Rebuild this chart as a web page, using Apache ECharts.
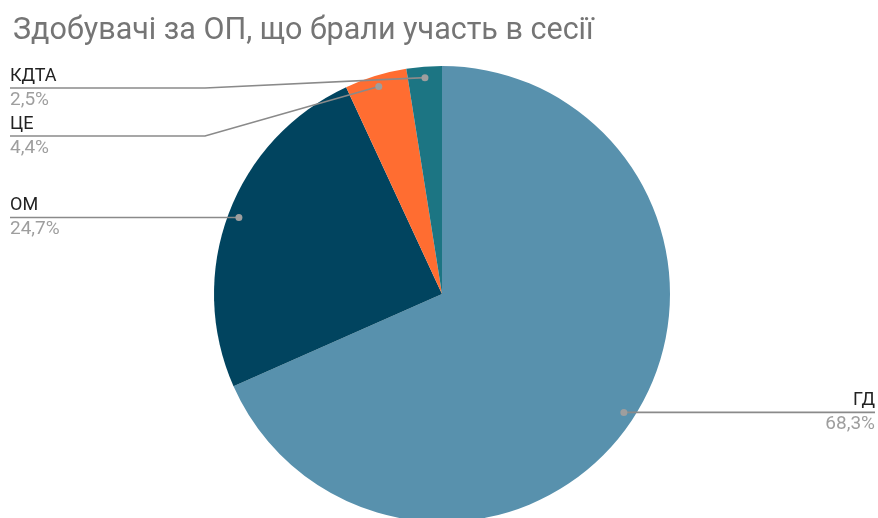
<!DOCTYPE html>
<html>
<head>
<meta charset="utf-8">
<script src="https://cdn.jsdelivr.net/npm/echarts@6/dist/echarts.min.js"></script>
<style>
html,body{margin:0;padding:0;background:#fff;}
#chart{width:878px;height:518px;}
</style>
</head>
<body>
<div id="chart"></div>
<script>
// ---- data ----
const categories = ['ГД', 'ОМ', 'ЦЕ', 'КДТА'];
const values = [68.3, 24.7, 4.4, 2.5];
const percentLabels = ['68,3%', '24,7%', '4,4%', '2,5%'];
const sliceColors = ['#5891ad', '#01445f', '#ff6d31', '#1c7583'];
const titleText = 'Здобувачі за ОП, що брали участь в сесії';

// ---- layout constants ----
const CX = 442, CY = 294, R = 228;
const DOT_INSET = 11;
const EDGE_L = 10, EDGE_R = 875;
const BEND = 195;
const LABEL_H = 48;
const TOP_MIN = 88;
const LINE_COLOR = '#8a8a8a';

const chart = echarts.init(document.getElementById('chart'), null, {renderer: 'canvas'});

const seriesData = categories.map((c, i) => ({
  name: c, value: values[i], itemStyle: {color: sliceColors[i]}
}));

const outerPts = [];
function recordLayout(params) {
  if (params.labelLinePoints) {
    outerPts[params.dataIndex] = params.labelLinePoints[0].slice();
  }
  return {};
}

function baseOption(labelLayoutFn, showLine) {
  return {
    animation: false,
    backgroundColor: '#ffffff',
    title: {
      text: titleText,
      left: 8, top: 11,
      textStyle: {fontFamily: 'Roboto', fontSize: 30.5, fontWeight: 'normal', color: '#757575'}
    },
    series: [{
      type: 'pie',
      center: [CX, CY],
      radius: R,
      startAngle: 90,
      clockwise: true,
      avoidLabelOverlap: false,
      data: seriesData,
      itemStyle: {borderWidth: 0},
      label: {
        show: true,
        position: 'outside',
        formatter: p => '{n|' + p.name + '}\n{p|' + percentLabels[p.dataIndex] + '}',
        rich: {
          n: {fontFamily: 'Roboto', fontSize: 18, color: '#222222', lineHeight: 24},
          p: {fontFamily: 'Roboto', fontSize: 19, color: '#9e9e9e', lineHeight: 24}
        }
      },
      labelLine: {show: showLine, length: 10, length2: 10, lineStyle: {color: LINE_COLOR, width: 1.5}},
      labelLayout: labelLayoutFn,
      emphasis: {disabled: true}
    }]
  };
}

chart.setOption(baseOption(recordLayout, true));

// dots and label line heights derived from the library's layout
const dots = outerPts.map(p => {
  const dx = p[0] - CX, dy = p[1] - CY;
  const d = Math.sqrt(dx * dx + dy * dy);
  const k = (d - DOT_INSET) / d;
  return [CX + dx * k, CY + dy * k];
});
const lineY = [];
const left = [], right = [];
dots.forEach((d, i) => (d[0] < CX ? left : right).push(i));
[left, right].forEach(side => {
  side.sort((a, b) => dots[a][1] - dots[b][1]);
  let prev = -Infinity;
  side.forEach(i => {
    const y = Math.max(dots[i][1], prev + LABEL_H, TOP_MIN);
    lineY[i] = y;
    prev = y;
  });
});

const guidePts = dots.map((d, i) => {
  const isLeft = d[0] < CX;
  const y = lineY[i];
  const edge = isLeft ? EDGE_L : EDGE_R;
  let bendX = isLeft ? EDGE_L + BEND : EDGE_R - BEND;
  if (isLeft && bendX > d[0]) bendX = d[0];
  if (!isLeft && bendX < d[0]) bendX = d[0];
  return [d.slice(), [bendX, y], [edge, y]];
});

function finalLayout(params) {
  const i = params.dataIndex;
  const isLeft = dots[i][0] < CX;
  return {
    x: isLeft ? EDGE_L : EDGE_R,
    y: lineY[i],
    align: isLeft ? 'left' : 'right',
    verticalAlign: 'middle'
  };
}

const opt = baseOption(finalLayout, false);
opt.graphic = [].concat(
  guidePts.map(pts => ({
    type: 'polyline',
    shape: {points: pts},
    style: {stroke: LINE_COLOR, lineWidth: 1.6, fill: null},
    z: 100
  })),
  dots.map(d => ({
    type: 'circle',
    shape: {cx: d[0], cy: d[1], r: 3.5},
    style: {fill: '#9e9e9e'},
    z: 101
  }))
);
chart.setOption(opt, true);
</script>
</body>
</html>
